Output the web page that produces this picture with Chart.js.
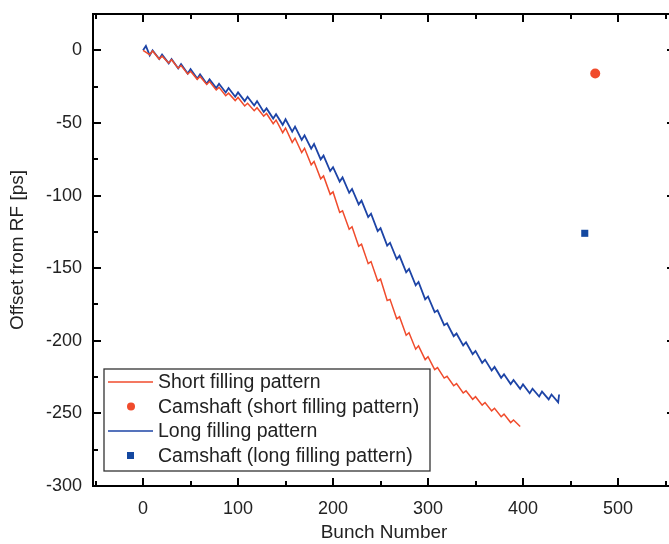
<!DOCTYPE html>
<html>
<head>
<meta charset="utf-8">
<script src="https://cdn.jsdelivr.net/npm/chart.js"></script>
<style>
  html, body { margin: 0; padding: 0; background: #fff; overflow: hidden; }
  #wrap { position: relative; width: 680px; height: 544px; }
</style>
</head>
<body>
<div id="wrap"><canvas id="myChart"></canvas></div>
<script>
// bunch numbers / offsets
const shortBunch = [0, 7, 10, 17, 20, 27, 30, 37, 40, 47, 50, 57, 60, 67, 70, 77, 80, 87, 90, 97,
  100, 107, 110, 117, 120, 127, 130, 137, 140, 147, 150, 157, 160, 167, 170, 177, 180, 187, 190, 197,
  200, 207, 210, 217, 220, 227, 230, 237, 240, 247, 250, 257, 260, 267, 270, 277, 280, 287, 290, 297,
  300, 307, 310, 317, 320, 327, 330, 337, 340, 347, 350, 357, 360, 367, 370, 377, 380, 387, 390, 397];
const shortOffset = [0, -3, -0.5, -6, -4, -8.7, -6.5, -12.3, -10.5, -16.3, -14.5, -20, -18, -23.5, -21.5, -27.3, -25.5, -31.3, -29.5, -34.6,
  -32.5, -38.3, -36.5, -41.6, -39.5, -45.3, -43.5, -50.5, -48, -56.7, -53.5, -63.4, -60.5, -70.4, -67.5, -78.8, -76.5, -88.5, -86.5, -99.2,
  -97.5, -111.6, -110.5, -123.2, -121.5, -134.9, -133.5, -146.9, -145.5, -158.9, -157.5, -172.3, -171.5, -184.9, -183.5, -196.2, -194.5, -205.8, -203.5, -213,
  -211, -219.9, -218.5, -225.7, -224.5, -231, -229.5, -236, -234.5, -240.3, -238.5, -244.3, -242.5, -248.3, -246.5, -252.3, -250.5, -256.3, -254.5, -259];

const longBunch = [0, 3, 7, 10, 17, 20, 27, 30, 37, 40, 47, 50, 57, 60, 67, 70, 77, 80, 87, 90, 97,
  100, 107, 110, 117, 120, 127, 130, 137, 140, 147, 150, 157, 160, 167, 170, 177, 180, 187, 190, 197,
  200, 207, 210, 217, 220, 227, 230, 237, 240, 247, 250, 257, 260, 267, 270, 277, 280, 287, 290, 297,
  300, 307, 310, 317, 320, 327, 330, 337, 340, 347, 350, 357, 360, 367, 370, 377, 380, 387, 390, 397,
  400, 407, 410, 417, 420, 427, 430, 437, 438];
const longOffset = [0, 3, -3.5, 0, -6, -3, -9, -6, -12.5, -9.5, -16, -13, -19.5, -16.5, -23, -20, -26, -23, -29, -26, -32,
  -29, -35, -32, -38, -35, -42.5, -40, -47, -44, -51.3, -47.5, -56, -52.5, -61.7, -58.5, -67.7, -64.5, -75.1, -72.5, -83.1,
  -80.5, -90.4, -87.5, -98.1, -95.5, -106.1, -103.5, -114.8, -112.5, -124.5, -122.5, -134.5, -132.5, -143.8, -141.5, -152.8, -150.5, -161.8, -159.5, -171.5,
  -169.5, -180.3, -179, -189.3, -188, -196.9, -195, -203.2, -201, -209.2, -207, -215.2, -213, -220.5, -218, -225.5, -223, -229.8, -227, -233.1,
  -230, -236.1, -233, -238.4, -235, -240.4, -237, -242.4, -237];

const camshaftShort = [{ x: 476, y: -16 }];
const camshaftLong = [{ x: 465, y: -126 }];

const xTickLabels = [0, 100, 200, 300, 400, 500];
const yTickLabels = [0, -50, -100, -150, -200, -250, -300];

const RED = '#f04b2c';
const BLUE = '#1d44a6';
const FONT = "'Liberation Sans', Arial, Helvetica, sans-serif";

function pairs(xs, ys) {
  return xs.map((v, i) => ({ x: v, y: ys[i] }));
}

// inward ticks on all four sides + full frame
const frameTicks = {
  id: 'frameTicks',
  afterDatasetsDraw(chart) {
    const { ctx, chartArea: a, scales: { x, y } } = chart;
    ctx.save();
    ctx.strokeStyle = '#000';
    ctx.lineWidth = 2;
    ctx.beginPath();
    x.ticks.forEach(t => {
      if (t.value % 50 !== 0) return;
      const len = t.value % 100 === 0 ? 8 : 5;
      const px = Math.round(x.getPixelForValue(t.value));
      ctx.moveTo(px, a.bottom); ctx.lineTo(px, a.bottom - len);
      ctx.moveTo(px, a.top); ctx.lineTo(px, a.top + len);
    });
    y.ticks.forEach(t => {
      if (t.value % 25 !== 0) return;
      const len = t.value % 50 === 0 ? 8 : 5;
      const py = Math.round(y.getPixelForValue(t.value));
      ctx.moveTo(a.left, py); ctx.lineTo(a.left + len, py);
      ctx.moveTo(a.right, py); ctx.lineTo(a.right - len, py);
    });
    ctx.stroke();
    ctx.strokeRect(a.left, a.top, a.right - a.left, a.bottom - a.top);
    ctx.restore();
  }
};

// boxed legend in the lower left of the plot
const boxLegend = {
  id: 'boxLegend',
  afterDraw(chart) {
    const ctx = chart.ctx;
    const left = 104, top = 369, w = 326, h = 102, row = 24.5;
    ctx.save();
    ctx.fillStyle = '#fff';
    ctx.fillRect(left, top, w, h);
    ctx.strokeStyle = '#333';
    ctx.lineWidth = 1.3;
    ctx.strokeRect(left, top, w, h);
    ctx.font = '19.5px ' + FONT;
    ctx.textBaseline = 'middle';
    chart.data.datasets.forEach((ds, i) => {
      const cy = top + 13 + i * row;
      if (ds.showLine) {
        ctx.strokeStyle = ds.borderColor;
        ctx.lineWidth = 1.4;
        ctx.beginPath();
        ctx.moveTo(108, cy); ctx.lineTo(153, cy);
        ctx.stroke();
      } else if (ds.pointStyle === 'rect') {
        ctx.fillStyle = ds.backgroundColor;
        ctx.fillRect(127, cy - 3.5, 7, 7);
      } else {
        ctx.fillStyle = ds.backgroundColor;
        ctx.beginPath();
        ctx.arc(131, cy, 4, 0, Math.PI * 2);
        ctx.fill();
      }
      ctx.fillStyle = '#222';
      ctx.fillText(ds.label, 158, cy + 1);
    });
    ctx.restore();
  }
};

const config = {
  type: 'scatter',
  data: {
    datasets: [
      { label: 'Short filling pattern', data: pairs(shortBunch, shortOffset), showLine: true,
        borderColor: RED, borderWidth: 1.5, pointRadius: 0, tension: 0 },
      { label: 'Camshaft (short filling pattern)', data: camshaftShort, showLine: false,
        backgroundColor: RED, borderColor: RED, pointStyle: 'circle', pointRadius: 5, borderWidth: 0 },
      { label: 'Long filling pattern', data: pairs(longBunch, longOffset), showLine: true,
        borderColor: BLUE, borderWidth: 1.8, pointRadius: 0, tension: 0 },
      { label: 'Camshaft (long filling pattern)', data: camshaftLong, showLine: false,
        backgroundColor: '#1448a0', borderColor: '#1448a0', pointStyle: 'rect', pointRadius: 5, borderWidth: 0 }
    ]
  },
  options: {
    responsive: true,
    maintainAspectRatio: false,
    animation: false,
    devicePixelRatio: 1,
    layout: { padding: { top: 14, right: 1, left: 0, bottom: 0 } },
    plugins: { legend: { display: false }, tooltip: { enabled: false } },
    scales: {
      x: {
        type: 'linear', min: -52.7, max: 560,
        grid: { display: false, drawTicks: false },
        border: { display: false },
        afterFit: s => { s.height = 58; s.paddingLeft = 0; s.paddingRight = 0; },
        ticks: {
          stepSize: 50, includeBounds: false, padding: 12, maxRotation: 0, autoSkip: false,
          color: '#222', font: { family: FONT, size: 18 },
          callback: v => xTickLabels.includes(v) ? String(v) : ''
        },
        title: { display: true, text: 'Bunch Number', color: '#222',
          font: { family: FONT, size: 19 }, padding: { top: 0, bottom: 0 } }
      },
      y: {
        type: 'linear', min: -300, max: 25,
        grid: { display: false, drawTicks: false },
        border: { display: false },
        afterFit: s => { s.width = 93; s.paddingTop = 0; s.paddingBottom = 0; },
        ticks: {
          stepSize: 25, includeBounds: false, padding: 11, autoSkip: false,
          color: '#222', font: { family: FONT, size: 18 },
          callback: v => yTickLabels.includes(v) ? String(v) : ''
        },
        title: { display: true, text: 'Offset from RF [ps]', color: '#222',
          font: { family: FONT, size: 19 }, padding: { top: 6, bottom: 0 } }
      }
    }
  },
  plugins: [frameTicks, boxLegend]
};

const myChart = new Chart(document.getElementById('myChart'), config);
</script>
</body>
</html>
